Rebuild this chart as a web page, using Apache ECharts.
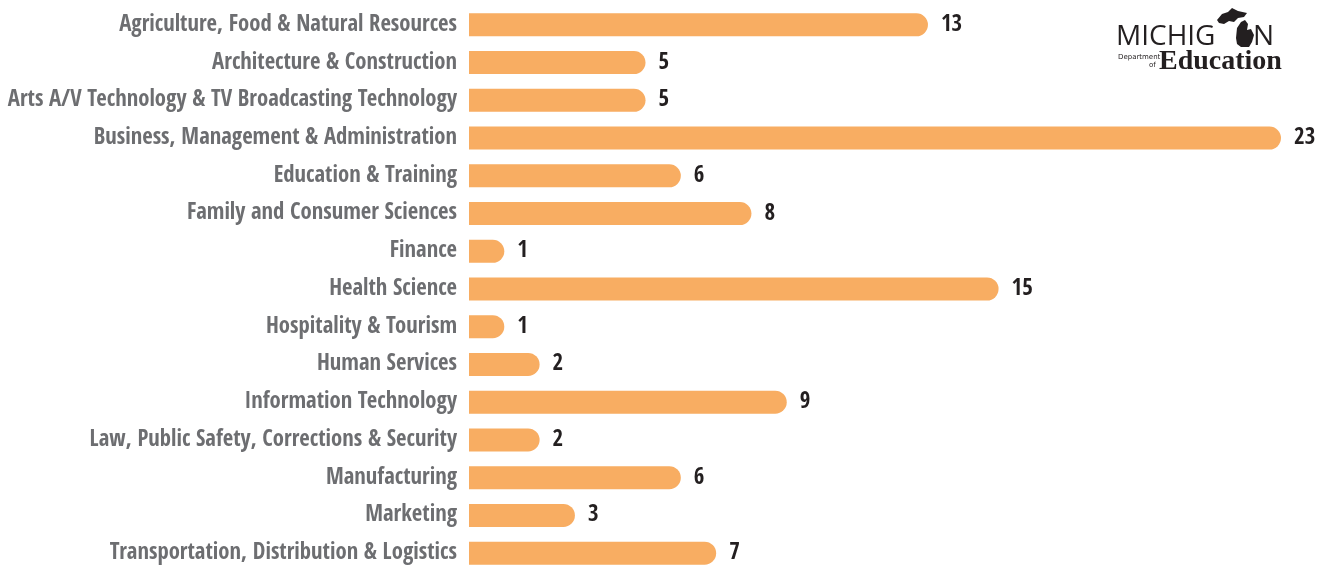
<!DOCTYPE html>
<html><head><meta charset="utf-8">
<script src="https://cdn.jsdelivr.net/npm/echarts@6/dist/echarts.min.js"></script>
<style>html,body{margin:0;padding:0;background:#fff}#c{width:1328px;height:569px}</style>
</head><body><div id="c"></div>
<script>
const categories = [
  "Agriculture, Food & Natural Resources",
  "Architecture & Construction",
  "Arts A/V Technology & TV Broadcasting Technology",
  "Business, Management & Administration",
  "Education & Training",
  "Family and Consumer Sciences",
  "Finance",
  "Health Science",
  "Hospitality & Tourism",
  "Human Services",
  "Information Technology",
  "Law, Public Safety, Corrections & Security",
  "Manufacturing",
  "Marketing",
  "Transportation, Distribution & Logistics"
];
const values = [13, 5, 5, 23, 6, 8, 1, 15, 1, 2, 9, 2, 6, 3, 7];

const FONT = "'Open Sans Condensed', 'Fira Sans Condensed', 'Roboto Condensed', sans-serif";
const chart = echarts.init(document.getElementById('c'), null, {renderer: 'canvas'});
chart.setOption({
  animation: false,
  backgroundColor: '#ffffff',
  grid: {left: 469, right: 47, top: 6, height: 566, containLabel: false, outerBoundsMode: 'none'},
  xAxis: {type: 'value', min: 0, max: 23, show: false},
  yAxis: {
    type: 'category', data: categories, inverse: true,
    axisLine: {show: false}, axisTick: {show: false}, splitLine: {show: false},
    axisLabel: {margin: 12, color: '#6d6e71', fontFamily: FONT, fontWeight: 'bold', fontSize: 22.7}
  },
  series: [{
    type: 'bar', data: values, barWidth: 23,
    itemStyle: {color: '#f8ad62', borderRadius: [0, 11.5, 11.5, 0]},
    label: {show: true, position: 'right', distance: 13, color: '#231f20',
      fontFamily: FONT, fontWeight: 'bold', fontSize: 23}
  }],
  graphic: [
    {type: 'text', left: 1116, top: 23, style: {text: 'MICHIG', fontFamily: "'Open Sans', 'DejaVu Sans', sans-serif", fontWeight: 'normal', fontSize: 28, fill: '#231f20'}},
    {type: 'text', left: 1253, top: 23, style: {text: 'N', fontFamily: "'Open Sans', 'DejaVu Sans', sans-serif", fontWeight: 'normal', fontSize: 28, fill: '#231f20'}},
    {type: 'polygon', shape: {points: [[1217,20],[1222,14],[1228,12],[1232,8],[1238,11],[1247,13],[1244,17],[1238,18],[1234,22],[1229,21],[1224,24],[1219,23]]}, style: {fill: '#231f20'}},
    {type: 'polygon', shape: {points: [[1237,28],[1241,22],[1245,20],[1248,24],[1247,30],[1251,29],[1254,35],[1252,42],[1249,47],[1241,47],[1237,44],[1236,38]]}, style: {fill: '#231f20'}},
    {type: 'text', left: 1118, top: 54, style: {text: 'Department', fontFamily: "'DejaVu Sans', sans-serif", fontSize: 7, fill: '#231f20'}},
    {type: 'text', left: 1149, top: 62, style: {text: 'of', fontFamily: "'DejaVu Sans', sans-serif", fontSize: 7, fill: '#231f20'}},
    {type: 'text', left: 1159, top: 48, style: {text: 'Education', fontFamily: "'Liberation Serif', 'DejaVu Serif', serif", fontWeight: 'bold', fontSize: 28, fill: '#231f20'}}
  ]
});
</script></body></html>
